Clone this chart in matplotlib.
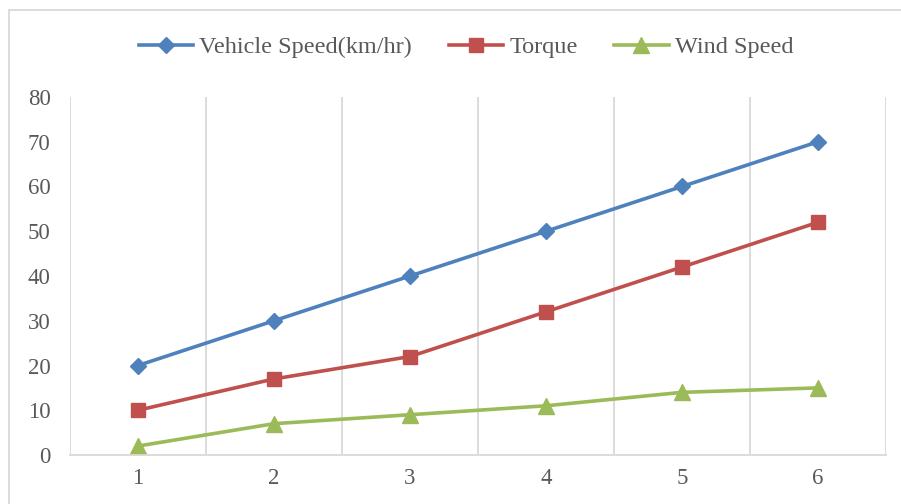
import matplotlib
matplotlib.use("Agg")
import matplotlib.pyplot as plt
from matplotlib.patches import Rectangle

categories = [1, 2, 3, 4, 5, 6]
vehicle_speed = [20, 30, 40, 50, 60, 70]
torque = [10, 17, 22, 32, 42, 52]
wind_speed = [2, 7, 9, 11, 14, 15]
series_names = ["Vehicle Speed(km/hr)", "Torque", "Wind Speed"]
y_ticks = [0, 10, 20, 30, 40, 50, 60, 70, 80]

plt.rcParams['font.family'] = ['Liberation Serif', 'DejaVu Serif']
txt = '#595959'
grid_c = '#d9d9d9'

fig = plt.figure(figsize=(9.01, 5.04), dpi=100)
ax = fig.add_axes([70/901, 1-455/504, (886-70)/901, (455-97)/504])

ax.plot(categories, vehicle_speed, color='#4F81BD', lw=2.6, marker='D', ms=8.5, label=series_names[0])
ax.plot(categories, torque, color='#C0504D', lw=2.6, marker='s', ms=10, label=series_names[1])
ax.plot(categories, wind_speed, color='#9BBB59', lw=2.6, marker='^', ms=12, label=series_names[2])

ax.set_xlim(0.5, 6.5)
ax.set_ylim(0, 80)
ax.set_xticks(categories)
ax.set_xticklabels([str(c) for c in categories])
ax.set_yticks(y_ticks)
ax.set_xticks([c + 0.5 for c in [0] + categories], minor=True)
ax.grid(True, which='minor', axis='x', color=grid_c, lw=1.3)
ax.grid(False, which='major')
for s in ['top', 'right', 'left']:
    ax.spines[s].set_visible(False)
ax.spines['bottom'].set_color(grid_c)
ax.spines['bottom'].set_linewidth(1.3)
ax.tick_params(which='both', length=0, colors=txt, labelsize=16.5)
ax.tick_params(axis='x', pad=9)
ax.tick_params(axis='y', pad=14)
ax.set_axisbelow(True)
for lab in ax.get_yticklabels() + ax.get_xticklabels():
    lab.set_color(txt)

leg = fig.legend(loc='center', bbox_to_anchor=(466/901, 1-47/504), ncol=3, frameon=False,
                 fontsize=17.5, handlelength=2.25, columnspacing=1.5, handletextpad=0.25)
for t in leg.get_texts():
    t.set_color(txt)

fig.patches.append(Rectangle((9/901, -0.05), 1.0, 1-10/504+0.05, transform=fig.transFigure,
                             fill=False, edgecolor=grid_c, lw=1.3))

fig.savefig('out.png', dpi=100)
